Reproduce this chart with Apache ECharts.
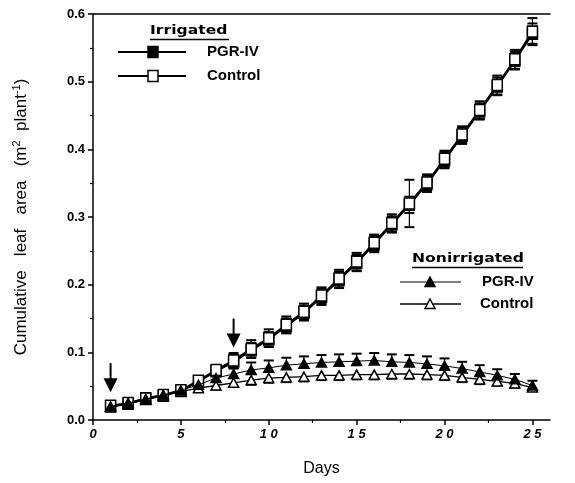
<!DOCTYPE html>
<html>
<head>
<meta charset="utf-8">
<script src="https://cdn.jsdelivr.net/npm/echarts@6/dist/echarts.min.js"></script>
<style>
html, body { margin: 0; padding: 0; background: #fff; }
#chart { width: 575px; height: 483px; }
</style>
</head>
<body>
<div id="chart"></div>
<script>
// Days after first measurement
const days = [1, 2, 3, 4, 5, 6, 7, 8, 9, 10, 11, 12, 13, 14, 15, 16, 17, 18, 19, 20, 21, 22, 23, 24, 25];

// Irrigated plants (m2 plant-1) with standard errors
const irrControl    = [0.021, 0.025, 0.032, 0.037, 0.044, 0.058, 0.074, 0.088, 0.105, 0.121, 0.141, 0.160, 0.184, 0.209, 0.234, 0.262, 0.291, 0.320, 0.351, 0.386, 0.422, 0.458, 0.495, 0.533, 0.574];
const irrControlErr = [0.003, 0.003, 0.004, 0.004, 0.005, 0.006, 0.007, 0.011, 0.013, 0.013, 0.012, 0.012, 0.012, 0.013, 0.013, 0.012, 0.013, 0.035, 0.012, 0.012, 0.012, 0.013, 0.014, 0.014, 0.020];
const irrPgr        = [0.020, 0.024, 0.031, 0.036, 0.043, 0.057, 0.072, 0.086, 0.103, 0.119, 0.139, 0.158, 0.182, 0.207, 0.232, 0.260, 0.289, 0.318, 0.349, 0.384, 0.420, 0.456, 0.493, 0.531, 0.571];
const irrPgrErr     = [0.003, 0.003, 0.004, 0.004, 0.005, 0.006, 0.007, 0.010, 0.011, 0.011, 0.011, 0.011, 0.012, 0.012, 0.012, 0.012, 0.012, 0.012, 0.012, 0.012, 0.012, 0.012, 0.013, 0.013, 0.015];

// Nonirrigated plants (m2 plant-1) with standard errors
const nonPgr        = [0.020, 0.025, 0.031, 0.037, 0.044, 0.052, 0.062, 0.068, 0.074, 0.077, 0.081, 0.083, 0.085, 0.086, 0.087, 0.088, 0.086, 0.085, 0.083, 0.080, 0.076, 0.071, 0.066, 0.060, 0.051];
const nonPgrErr     = [0.003, 0.003, 0.004, 0.005, 0.006, 0.008, 0.009, 0.010, 0.011, 0.011, 0.011, 0.011, 0.011, 0.011, 0.011, 0.011, 0.011, 0.011, 0.011, 0.011, 0.010, 0.010, 0.009, 0.008, 0.007];
const nonControl    = [0.019, 0.024, 0.030, 0.036, 0.042, 0.047, 0.051, 0.055, 0.059, 0.062, 0.063, 0.064, 0.066, 0.066, 0.067, 0.067, 0.068, 0.068, 0.067, 0.066, 0.063, 0.060, 0.057, 0.054, 0.048];
const nonControlErr = [0.003, 0.003, 0.003, 0.004, 0.004, 0.005, 0.006, 0.006, 0.007, 0.007, 0.007, 0.007, 0.007, 0.007, 0.007, 0.007, 0.007, 0.007, 0.007, 0.007, 0.007, 0.007, 0.006, 0.006, 0.005];

// Treatment application days: [day, arrow tip, arrow tail]
const arrowDays = [[1, 0.041, 0.084], [8, 0.107, 0.150]];

// Axis ticks
const xMajorTicks = [0, 5, 10, 15, 20, 25];
const xMinorTicks = [2.5, 7.5, 12.5, 17.5, 22.5];

const FONT = '"Liberation Sans", Arial, sans-serif';
const INK = '#000';

function errorBars(vals, errs, up, down, width) {
  return {
    type: 'custom',
    silent: true,
    z: 1,
    data: days.map((d, i) => [d, vals[i], errs[i]]),
    renderItem(params, api) {
      const x = api.value(0), y = api.value(1), e = api.value(2);
      const top = api.coord([x, up ? y + e : y]);
      const bot = api.coord([x, down ? y - e : y]);
      const c = 5;
      const kids = [{
        type: 'line',
        shape: { x1: top[0], y1: top[1], x2: bot[0], y2: bot[1] },
        style: { stroke: INK, lineWidth: width }
      }];
      if (up) kids.push({ type: 'line', shape: { x1: top[0] - c, y1: top[1], x2: top[0] + c, y2: top[1] }, style: { stroke: INK, lineWidth: 2 } });
      if (down) kids.push({ type: 'line', shape: { x1: bot[0] - c, y1: bot[1], x2: bot[0] + c, y2: bot[1] }, style: { stroke: INK, lineWidth: 2 } });
      return { type: 'group', children: kids };
    }
  };
}

function lineSeries(name, vals, symbol, size, filled, lineWidth, z) {
  return {
    name,
    type: 'line',
    z,
    data: days.map((d, i) => [d, vals[i]]),
    symbol,
    symbolSize: size,
    showAllSymbol: true,
    animation: false,
    lineStyle: { color: INK, width: lineWidth },
    itemStyle: { color: filled ? INK : '#fff', borderColor: INK, borderWidth: 1.5, opacity: 1 }
  };
}

const arrowSeries = {
  type: 'custom',
  silent: true,
  z: 5,
  data: arrowDays,
  renderItem(params, api) {
    const tip = api.coord([api.value(0), api.value(1)]);
    const tail = api.coord([api.value(0), api.value(2)]);
    const hw = 7, hh = 14;
    return {
      type: 'group',
      children: [
        { type: 'line', shape: { x1: tail[0], y1: tail[1], x2: tip[0], y2: tip[1] - hh + 2 }, style: { stroke: INK, lineWidth: 2 } },
        { type: 'polygon', shape: { points: [[tip[0] - hw, tip[1] - hh], [tip[0] + hw, tip[1] - hh], [tip[0], tip[1]]] }, style: { fill: INK } }
      ]
    };
  }
};

// Key boxes for the two water regimes
function keyEntry(y, x1, x2, mx, marker, lw, label, lx) {
  const items = [{ type: 'line', shape: { x1, y1: y, x2, y2: y }, style: { stroke: INK, lineWidth: lw } }];
  if (marker === 'rectFilled' || marker === 'rectOpen') {
    items.push({ type: 'rect', shape: { x: mx - 5, y: y - 5.5, width: 10, height: 11 }, style: { fill: marker === 'rectFilled' ? INK : '#fff', stroke: INK, lineWidth: 1.5 } });
  } else {
    items.push({ type: 'polygon', shape: { points: [[mx - 5, y + 4.5], [mx + 5, y + 4.5], [mx, y - 5]] }, style: { fill: marker === 'triFilled' ? INK : '#fff', stroke: INK, lineWidth: 1.5 } });
  }
  items.push({ type: 'text', x: lx, y, style: { text: label, font: 'bold 15px ' + FONT, fill: INK, verticalAlign: 'middle', textVerticalAlign: 'middle' } });
  return items;
}

function keyTitle(text, x, y, x2) {
  return [
    { type: 'text', x, y, scaleX: 1.2, style: { text, font: 'bold 13px "DejaVu Sans"', fill: INK, verticalAlign: 'middle', textVerticalAlign: 'middle' } },
    { type: 'line', shape: { x1: x, y1: y + 8.5, x2, y2: y + 8.5 }, style: { stroke: INK, lineWidth: 1.5 } }
  ];
}

const graphic = [
  ...keyTitle('Irrigated', 150, 31, 229),
  ...keyEntry(52, 118, 186, 153, 'rectFilled', 2, 'PGR-IV', 207),
  ...keyEntry(76, 118, 186, 153, 'rectOpen', 2, 'Control', 207),
  ...keyTitle('Nonirrigated', 412, 259, 523),
  ...keyEntry(282, 400, 461, 430, 'triFilled', 1, 'PGR-IV', 482),
  ...keyEntry(304, 400, 461, 430, 'triOpen', 1.5, 'Control', 480)
];

const chart = echarts.init(document.getElementById('chart'), null, { renderer: 'canvas' });
chart.setOption({
  backgroundColor: '#fff',
  animation: false,
  grid: { left: 93, right: 25, top: 14, bottom: 63 },
  xAxis: [
    {
      type: 'value', min: 0, max: 26, position: 'bottom',
      name: 'Days', nameLocation: 'middle', nameGap: 41,
      nameTextStyle: { fontFamily: FONT, fontSize: 16, color: INK },
      axisLine: { show: true, lineStyle: { color: INK, width: 1.5 } },
      axisTick: { show: true, customValues: xMajorTicks, length: 5, lineStyle: { color: INK, width: 1.5 } },
      axisLabel: {
        customValues: xMajorTicks, margin: 8,
        fontFamily: FONT, fontSize: 13, fontWeight: 'bold', fontStyle: 'italic', color: INK,
        formatter: v => String(v).split('').join(' ')
      },
      splitLine: { show: false }
    },
    {
      type: 'value', min: 0, max: 26, position: 'bottom',
      axisLine: { show: false },
      axisTick: { show: true, customValues: xMinorTicks, length: 3, lineStyle: { color: INK, width: 1.2 } },
      axisLabel: { show: false, customValues: xMinorTicks },
      splitLine: { show: false }
    },
    {
      type: 'value', min: 0, max: 26, position: 'top',
      axisLine: { show: true, lineStyle: { color: INK, width: 1.5 } },
      axisTick: { show: false }, axisLabel: { show: false }, splitLine: { show: false }
    }
  ],
  yAxis: {
    type: 'value', min: 0, max: 0.6, interval: 0.1,
    name: '{t|Cumulative   leaf   area   (m}{s|2}{t|  plant}{s|-1}{t|)}',
    nameLocation: 'middle', nameGap: 62, nameRotate: 90,
    nameTextStyle: {
      color: INK,
      rich: {
        t: { fontFamily: FONT, fontSize: 17, color: INK },
        s: { fontFamily: FONT, fontSize: 11, color: INK, verticalAlign: 'top', padding: [0, 0, 9, 0] }
      }
    },
    axisLine: { show: true, lineStyle: { color: INK, width: 1.5 } },
    axisTick: { show: true, length: 5, lineStyle: { color: INK, width: 1.5 } },
    minorTick: { show: true, splitNumber: 2, length: 3, lineStyle: { color: INK, width: 1.2 } },
    axisLabel: { margin: 8, fontFamily: FONT, fontSize: 13, fontWeight: 'bold', color: INK, formatter: v => v.toFixed(1) },
    splitLine: { show: false }
  },
  series: [
    errorBars(irrPgr, irrPgrErr, true, true, 1.2),
    errorBars(irrControl, irrControlErr, true, true, 1.2),
    errorBars(nonPgr, nonPgrErr, true, false, 1.2),
    errorBars(nonControl, nonControlErr, false, true, 1.2),
    lineSeries('Irrigated PGR-IV', irrPgr, 'rect', [10, 11], true, 2, 2),
    lineSeries('Irrigated Control', irrControl, 'rect', [10, 11], false, 2, 3),
    lineSeries('Nonirrigated Control', nonControl, 'triangle', [10, 9], false, 1.3, 4),
    lineSeries('Nonirrigated PGR-IV', nonPgr, 'triangle', [10, 9], true, 1, 4),
    arrowSeries
  ],
  graphic
});
</script>
</body>
</html>
